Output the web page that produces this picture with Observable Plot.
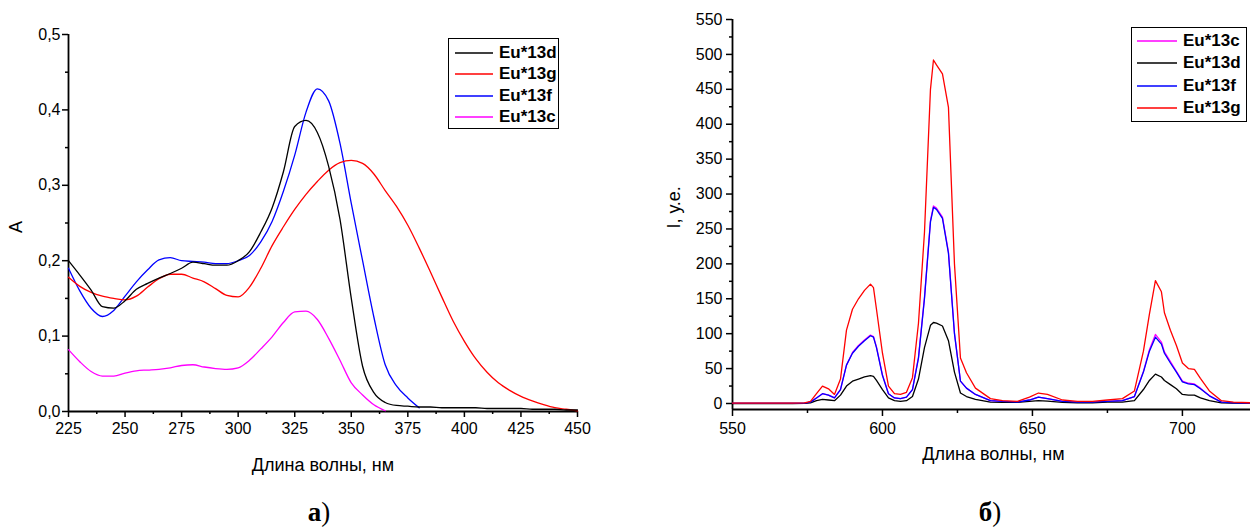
<!DOCTYPE html>
<html><head><meta charset="utf-8">
<script src="https://cdn.jsdelivr.net/npm/d3@7"></script>
<script src="https://cdn.jsdelivr.net/npm/@observablehq/plot@0.6"></script>
<style>
html,body{margin:0;padding:0;background:#fff;overflow:hidden}
#root{position:relative;width:1250px;height:531px;font-family:"Liberation Sans",Arial,sans-serif}
.chart{position:absolute;top:0}
.legend{position:absolute;border:1.5px solid #000;background:#fff;box-sizing:border-box}
.legend .row{position:absolute;height:20px;margin-top:-10px;left:0;right:0}
.legend svg{position:absolute;top:0;left:0}
.legend .tx{position:absolute;top:0;line-height:20px;font-weight:bold;font-size:17px;color:#000;white-space:nowrap}
.cap{position:absolute;top:494px;width:60px;text-align:center;font-family:"Liberation Serif","Times New Roman",serif;font-size:27px;color:#000;line-height:36px}
</style>
</head><body><div id="root"></div>
<script>
// ---------- Absorption spectra (a) ----------
const absWl = [225,230,235,240,245,250,255,260,265,270,275,280,285,290,295,300,305,310,315,320,325,330,335,340,345,350,355,360,365,370,375,380,385,390,395,400,405,410,415,420,425,430,435,440,445,450];
const absD = [0.200,0.181,0.161,0.139,0.137,0.147,0.162,0.170,0.177,0.183,0.190,0.198,0.196,0.194,0.194,0.200,0.212,0.238,0.270,0.318,0.378,0.386,0.370,0.325,0.255,0.150,0.060,0.025,0.012,0.008,0.007,0.006,0.006,0.005,0.005,0.005,0.005,0.004,0.004,0.004,0.004,0.003,0.003,0.003,0.002,0.002];
const absG = [0.178,0.166,0.158,0.153,0.150,0.148,0.153,0.165,0.176,0.182,0.182,0.177,0.172,0.163,0.154,0.152,0.165,0.190,0.220,0.245,0.268,0.288,0.305,0.320,0.330,0.333,0.329,0.315,0.293,0.272,0.247,0.217,0.185,0.152,0.120,0.093,0.070,0.052,0.038,0.028,0.020,0.014,0.009,0.005,0.003,0.001];
const absF = [0.190,0.160,0.137,0.126,0.134,0.153,0.172,0.188,0.201,0.204,0.200,0.199,0.198,0.196,0.196,0.200,0.207,0.225,0.252,0.292,0.340,0.397,0.428,0.412,0.356,0.276,0.200,0.125,0.062,0.034,0.018,0.005,null,null,null,null,null,null,null,null,null,null,null,null,null,null];
const absC = [0.082,0.066,0.053,0.047,0.047,0.051,0.054,0.055,0.056,0.058,0.061,0.062,0.059,0.057,0.056,0.058,0.068,0.083,0.099,0.118,0.132,0.133,0.122,0.097,0.068,0.038,0.022,0.009,0.001,null,null,null,null,null,null,null,null,null,null,null,null,null,null,null,null,null];
const absXTicks = [225,250,275,300,325,350,375,400,425,450];
const absXMinor = [237.5,262.5,287.5,312.5,337.5,362.5,387.5,412.5,437.5];
const absYTicks = [0,0.1,0.2,0.3,0.4,0.5];
const absYMinor = [0.05,0.15,0.25,0.35,0.45];
const absXDomain = [225,450];
const absYDomain = [0,0.5];

// ---------- Emission spectra (б) ----------
const emWl = [550,560,570,574,576,578,580,582,584,586,588,590,592,594,596,597,598,600,602,604,606,608,610,612,614,616,617,618,620,622,624,626,628,631,636,640,645,649,652,655,660,665,670,675,680,684,687,689,691,693,694,696,698,700,702,704,706,709,713,717,723];
const emG = [0.5,0.5,0.5,1,3,14,25,21,13,35,105,135,150,162,171,166,135,72,25,14,13,16,37,115,245,450,492,485,472,424,200,65,44,22,7,4,3,9,15,13,5,3,3,5,7,18,75,128,176,160,130,105,83,58,50,49,36,18,4,2,1];
const emF = [0.3,0.3,0.3,0.5,2,8,14,12,8,20,55,72,82,90,97,95,80,40,14,8,7,9,20,65,150,260,281,278,265,215,100,32,22,13,4,3,2,5,9,7,3,2,2,3,4,10,45,75,95,85,72,58,45,31,28,27,21,11,2,1,0.5];
const emC = [0.3,0.3,0.3,0.5,2,8,14,12,8,20,55,73,83,91,98,96,81,41,14,8,7,9,20,66,152,262,283,280,267,217,101,32,22,13,4,3,2,5,9,7,3,2,2,3,4,10,46,77,99,88,74,60,46,32,29,28,22,11,2,1,0.5];
const emD = [0,0,0,0.3,1,4,6,5,4,12,25,32,35,38,40,39,33,20,8,4,3,4,10,35,80,112,116,115,111,90,45,15,10,6,2,1.5,1.5,3,4,3.5,1.5,1,1,2,2,4,20,33,42,38,33,27,21,13,12,12,8,4,1,0.5,0.5];
const emXTicks = [550,600,650,700];
const emXMinor = [575,625,675];
const emYTicks = [0,50,100,150,200,250,300,350,400,450,500,550];
const emYMinor = [25,75,125,175,225,275,325,375,425,475,525];
const emXDomain = [550,722.7];
const emYDomain = [-8.6,550];

const names = {c:"Eu*13c", d:"Eu*13d", f:"Eu*13f", g:"Eu*13g"};
const colors = {c:"#ff00ff", d:"#000000", f:"#0000ff", g:"#ff0000"};
const absOrder = ["d","g","f","c"];
const emOrder = ["c","d","f","g"];

const FONT = '"Liberation Sans", Arial, sans-serif';
const TICK_FS = 16, TITLE_FS = 18;
const root = document.getElementById("root");

function table(xs, ys){ return xs.map((x,i)=>({x, y: ys[i]})).filter(d => d.y !== null); }

const absSeries = {d: absD, g: absG, f: absF, c: absC};
const emSeries = {c: emC, d: emD, f: emF, g: emG};

const commaFmt = d => d.toFixed(1).replace(".", ",");

const leftPlot = Plot.plot({
  width: 600, height: 480,
  marginLeft: 68, marginRight: 23, marginTop: 34, marginBottom: 69,
  style: {fontFamily: FONT, fontSize: TICK_FS + "px", color: "#000", background: "transparent", overflow: "visible"},
  x: {domain: absXDomain, axis: null},
  y: {domain: absYDomain, axis: null},
  marks: [
    Plot.axisY(absYTicks, {tickSize: 6, tickPadding: 2, tickFormat: commaFmt, label: null, strokeWidth: 1.5, fontSize: TICK_FS}),
    Plot.axisY(absYMinor, {tickSize: 3, tickFormat: () => "", label: null, strokeWidth: 1.5}),
    Plot.axisX(absXTicks, {tickSize: 6, tickPadding: 5, label: null, strokeWidth: 1.5, fontSize: TICK_FS}),
    Plot.axisX(absXMinor, {tickSize: 3, tickFormat: () => "", label: null, strokeWidth: 1.5}),
    Plot.ruleX([absXDomain[0]], {stroke: "#000", strokeWidth: 1.8}),
    Plot.ruleY([absYDomain[0]], {stroke: "#000", strokeWidth: 1.8}),
    ...absOrder.slice().reverse().map(k => Plot.line(table(absWl, absSeries[k]), {x: "x", y: "y", stroke: colors[k], strokeWidth: 1.3, curve: "monotone-x"})),
    Plot.text(["Длина волны, нм"], {frameAnchor: "bottom", dy: 59, fontSize: TITLE_FS, fill: "#000"}),
    Plot.text(["A"], {frameAnchor: "left", dx: -52, dy: 10, rotate: -90, fontSize: TITLE_FS, fill: "#000"})
  ]
});
leftPlot.classList.add("chart");
leftPlot.style.left = "0px";
root.appendChild(leftPlot);

const rightPlot = Plot.plot({
  width: 610, height: 480,
  marginLeft: 92, marginRight: 0, marginTop: 19, marginBottom: 71,
  style: {fontFamily: FONT, fontSize: TICK_FS + "px", color: "#000", background: "transparent", overflow: "visible"},
  x: {domain: emXDomain, axis: null},
  y: {domain: emYDomain, axis: null},
  marks: [
    Plot.axisY(emYTicks, {tickSize: 6, tickPadding: 4, label: null, strokeWidth: 1.5, fontSize: TICK_FS}),
    Plot.axisY(emYMinor, {tickSize: 3, tickFormat: () => "", label: null, strokeWidth: 1.5}),
    Plot.axisX(emXTicks, {tickSize: 7, tickPadding: 6, label: null, strokeWidth: 1.5, fontSize: TICK_FS}),
    Plot.axisX(emXMinor, {tickSize: 4, tickFormat: () => "", label: null, strokeWidth: 1.5}),
    Plot.ruleX([emXDomain[0]], {stroke: "#000", strokeWidth: 1.8}),
    Plot.ruleY([emYDomain[0]], {stroke: "#000", strokeWidth: 1.8}),
    ...emOrder.map(k => Plot.line(table(emWl, emSeries[k]), {x: "x", y: "y", stroke: colors[k], strokeWidth: 1.3})),
    Plot.text(["Длина волны, нм"], {frameAnchor: "bottom", dy: 50, dx: 2, fontSize: TITLE_FS, fill: "#000"}),
    Plot.text(["I, у.е."], {frameAnchor: "left", dx: -58, dy: 14, rotate: -90, fontSize: TITLE_FS, fill: "#000"})
  ]
});
rightPlot.classList.add("chart");
rightPlot.style.left = "640px";
root.appendChild(rightPlot);

const SVGNS = "http://www.w3.org/2000/svg";
function legend(order, box, rowY, lineX, lineW, textX){
  const el = document.createElement("div");
  el.className = "legend";
  Object.assign(el.style, {left: box[0]+"px", top: box[1]+"px", width: box[2]+"px", height: box[3]+"px"});
  order.forEach((k, i) => {
    const row = document.createElement("div");
    row.className = "row";
    row.style.top = rowY[i] + "px";
    const svg = document.createElementNS(SVGNS, "svg");
    svg.setAttribute("width", lineX + lineW + 2);
    svg.setAttribute("height", 20);
    const ln = document.createElementNS(SVGNS, "line");
    ln.setAttribute("x1", lineX); ln.setAttribute("x2", lineX + lineW);
    ln.setAttribute("y1", 10); ln.setAttribute("y2", 10);
    ln.setAttribute("stroke", colors[k]); ln.setAttribute("stroke-width", 1.6);
    svg.appendChild(ln);
    const tx = document.createElement("div");
    tx.className = "tx";
    tx.style.left = textX + "px";
    tx.textContent = names[k];
    row.appendChild(svg); row.appendChild(tx);
    el.appendChild(row);
  });
  root.appendChild(el);
}
legend(absOrder, [448, 38, 111, 91], [14, 35, 57, 78], 6, 38, 50);
legend(emOrder, [1131, 27, 116, 95], [13, 35, 58, 80], 5, 40, 51);

function caption(letter, cx){
  const c = document.createElement("div");
  c.className = "cap";
  c.style.left = (cx - 30) + "px";
  const b = document.createElement("b");
  b.textContent = letter;
  c.appendChild(b);
  c.appendChild(document.createTextNode(")"));
  root.appendChild(c);
}
caption("а", 319);
caption("б", 990);
</script>
</body></html>
